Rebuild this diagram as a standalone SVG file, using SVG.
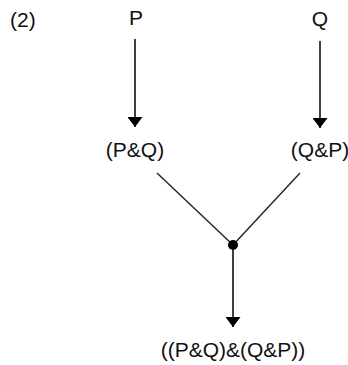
<svg xmlns="http://www.w3.org/2000/svg" width="348" height="365" viewBox="0 0 348 365">
  <style>
    .lbl { font-family: "Liberation Sans", Arial, sans-serif; font-size: 21px; fill: #111; text-anchor: middle; }
    .edge { stroke: #000; stroke-width: 1.5; fill: none; }
    .thin { stroke: #222; stroke-width: 1.4; fill: none; }
  </style>
  <defs>
    <marker id="arrow" viewBox="0 0 10 15" refX="10" refY="7.5" markerWidth="10" markerHeight="15" markerUnits="userSpaceOnUse" orient="auto">
      <path d="M0,0 L10,7.5 L0,15 Z" fill="#000"/>
    </marker>
  </defs>
  <rect width="348" height="365" fill="#fff"/>
  <text x="10" y="27" class="lbl" style="text-anchor:start">(2)</text>
  <g id="connectors">
    <line class="edge" x1="135" y1="39" x2="135" y2="127" marker-end="url(#arrow)"/>
    <line class="edge" x1="320" y1="41" x2="320" y2="128" marker-end="url(#arrow)"/>
    <line class="thin" x1="157" y1="173" x2="233" y2="245"/>
    <line class="thin" x1="300" y1="173" x2="233" y2="245"/>
    <line class="edge" x1="233" y1="245" x2="233" y2="327" marker-end="url(#arrow)"/>
  </g>
  <g id="node-p"><text x="136" y="25" class="lbl">P</text></g>
  <g id="node-q"><text x="320" y="26" class="lbl">Q</text></g>
  <g id="node-pq"><text x="135" y="157" class="lbl">(P&amp;Q)</text></g>
  <g id="node-qp"><text x="320" y="157" class="lbl">(Q&amp;P)</text></g>
  <g id="node-join"><circle cx="233" cy="245" r="5" fill="#000"/></g>
  <g id="node-conj"><text x="233" y="357" class="lbl">((P&amp;Q)&amp;(Q&amp;P))</text></g>
</svg>
